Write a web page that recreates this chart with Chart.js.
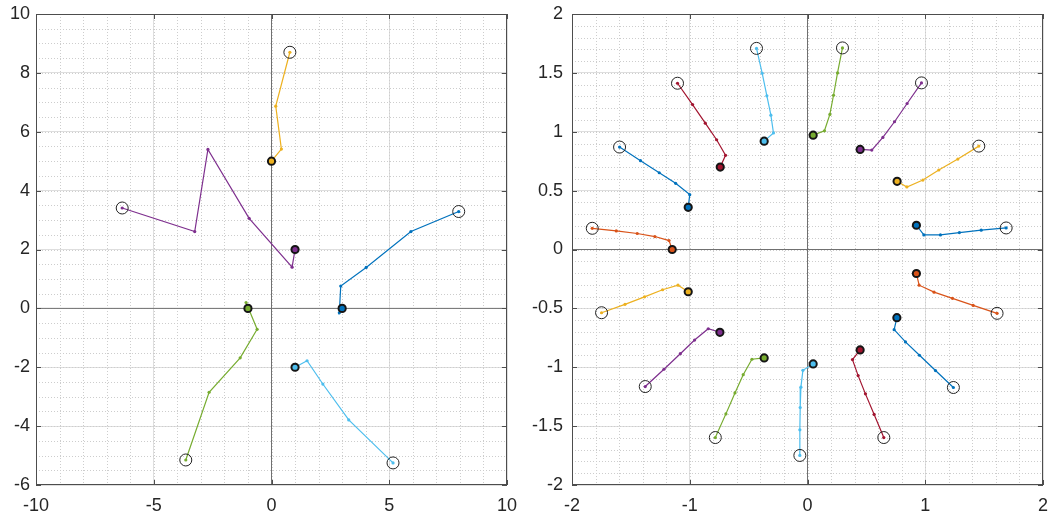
<!DOCTYPE html>
<html>
<head>
<meta charset="utf-8">
<script src="https://cdn.jsdelivr.net/npm/chart.js@4"></script>
<style>
  html, body { margin: 0; padding: 0; background: #fff; }
  #wrap { position: relative; width: 1052px; height: 516px; }
  canvas { position: absolute; top: 0; }
</style>
</head>
<body>
<div id="wrap">
  <canvas id="left" width="520" height="516" style="left:0"></canvas>
  <canvas id="right" width="532" height="516" style="left:520px"></canvas>
</div>
<script>
// MATLAB default line colours
const blue = '#0072BD', orange = '#D95319', yellow = '#EDB120', purple = '#7E2F8E',
      green = '#77AC30', cyan = '#4DBEEE', red = '#A2142F';

// ---- left panel: first point = start (bold ring), last point = end (open ring)
const leftBlue   = [[3, 0], [2.88, -0.15], [2.94, 0.76], [4.02, 1.39], [5.92, 2.61], [7.95, 3.29]];
const leftYellow = [[0, 5], [0.42, 5.41], [0.18, 6.87], [0.78, 8.7]];
const leftPurple = [[1, 2], [0.875, 1.4], [-0.95, 3.06], [-2.7, 5.4], [-3.26, 2.61], [-6.34, 3.41]];
const leftGreen  = [[-1, 0], [-1.08, 0.2], [-0.61, -0.71], [-1.33, -1.68], [-2.65, -2.85], [-3.64, -5.15]];
const leftCyan   = [[1, -2], [1.51, -1.78], [2.18, -2.57], [3.28, -3.79], [5.16, -5.25]];

const leftXRange = [-10, 10];
const leftYRange = [-6, 10];
const leftXTicks = [-10, -5, 0, 5, 10];
const leftYTicks = [-6, -4, -2, 0, 2, 4, 6, 8, 10];

// ---- right panel
const rightBlue1   = [[0.925, 0.206], [0.988, 0.124], [1.129, 0.124], [1.29, 0.144], [1.475, 0.164], [1.687, 0.183]];
const rightYellow1 = [[0.761, 0.579], [0.844, 0.531], [0.98, 0.59], [1.115, 0.675], [1.277, 0.768], [1.455, 0.878]];
const rightPurple1 = [[0.447, 0.85], [0.546, 0.844], [0.64, 0.952], [0.739, 1.085], [0.846, 1.24], [0.968, 1.415]];
const rightGreen1  = [[0.048, 0.971], [0.144, 1.008], [0.19, 1.147], [0.221, 1.31], [0.255, 1.5], [0.297, 1.712]];
const rightCyan1   = [[-0.368, 0.92], [-0.289, 0.99], [-0.311, 1.141], [-0.345, 1.305], [-0.385, 1.497], [-0.433, 1.708]];
const rightRed1    = [[-0.741, 0.7], [-0.696, 0.8], [-0.772, 0.932], [-0.868, 1.073], [-0.976, 1.231], [-1.104, 1.412]];
const rightBlue2   = [[-1.013, 0.358], [-1.0, 0.466], [-1.12, 0.562], [-1.259, 0.652], [-1.418, 0.754], [-1.596, 0.87]];
const rightOrange1 = [[-1.149, 0], [-1.176, 0.076], [-1.296, 0.11], [-1.446, 0.136], [-1.624, 0.158], [-1.828, 0.18]];
const rightYellow2 = [[-1.013, -0.359], [-1.1, -0.303], [-1.231, -0.342], [-1.384, -0.402], [-1.55, -0.466], [-1.749, -0.537]];
const rightPurple2 = [[-0.744, -0.703], [-0.843, -0.673], [-0.959, -0.769], [-1.08, -0.885], [-1.219, -1.017], [-1.378, -1.164]];
const rightGreen2  = [[-0.368, -0.921], [-0.472, -0.932], [-0.546, -1.063], [-0.616, -1.218], [-0.693, -1.396], [-0.783, -1.597]];
const rightCyan2   = [[0.048, -0.972], [-0.039, -1.026], [-0.056, -1.169], [-0.062, -1.342], [-0.065, -1.531], [-0.065, -1.749]];
const rightRed2    = [[0.447, -0.853], [0.382, -0.935], [0.43, -1.071], [0.492, -1.226], [0.566, -1.401], [0.648, -1.597]];
const rightBlue3   = [[0.759, -0.579], [0.736, -0.681], [0.832, -0.785], [0.951, -0.898], [1.087, -1.028], [1.239, -1.172]];
const rightOrange2 = [[0.925, -0.204], [0.948, -0.303], [1.075, -0.362], [1.231, -0.415], [1.407, -0.475], [1.61, -0.542]];

const rightXRange = [-2, 2];
const rightYRange = [-2, 2];
const rightXTicks = [-2, -1, 0, 1, 2];
const rightYTicks = [-2, -1.5, -1, -0.5, 0, 0.5, 1, 1.5, 2];

const leftTracks = [
    [leftBlue, blue], [leftYellow, yellow], [leftPurple, purple], [leftGreen, green], [leftCyan, cyan],
];
const rightTracks = [
    [rightBlue1, blue], [rightYellow1, yellow], [rightPurple1, purple], [rightGreen1, green],
    [rightCyan1, cyan], [rightRed1, red], [rightBlue2, blue], [rightOrange1, orange],
    [rightYellow2, yellow], [rightPurple2, purple], [rightGreen2, green], [rightCyan2, cyan],
    [rightRed2, red], [rightBlue3, blue], [rightOrange2, orange],
];

const FONT = {family: '"Liberation Sans", Arial, Helvetica, sans-serif', size: 18};
const TEXT = '#262626';

function buildSets(tracks, xr, yr) {
    const sets = [
        // the x=0 / y=0 reference lines
        {data: [{x: xr[0], y: 0}, {x: xr[1], y: 0}], showLine: true, borderColor: '#707070',
         borderWidth: 1, pointRadius: 0, order: 10},
        {data: [{x: 0, y: yr[0]}, {x: 0, y: yr[1]}], showLine: true, borderColor: '#707070',
         borderWidth: 1, pointRadius: 0, order: 10},
    ];
    tracks.forEach(([pts, color]) => {
        const data = pts.map(([x, y]) => ({x, y}));
        sets.push({data, showLine: true, borderColor: color, borderWidth: 1.2,
                   pointRadius: 1.6, pointBorderWidth: 0, pointBackgroundColor: color, order: 3});
        sets.push({data: [data[0]], pointRadius: 3.6, pointBorderWidth: 2, pointBorderColor: '#151515',
                   pointBackgroundColor: color, order: 1});
        sets.push({data: [data[data.length - 1]], pointRadius: 6, pointBorderWidth: 1, pointBorderColor: '#222',
                   pointBackgroundColor: 'rgba(0,0,0,0)', order: 2});
    });
    return sets;
}

// minor dotted grid, inward tick marks and the box
const matlabAxes = {
    id: 'matlabAxes',
    beforeDatasetsDraw(chart, args, opts) {
        const {ctx, chartArea: a, scales: {x, y}} = chart;
        ctx.save();
        ctx.strokeStyle = '#cdcdcd';
        ctx.lineWidth = 1;
        ctx.setLineDash([1, 2]);
        ctx.beginPath();
        let n = Math.round((x.max - x.min) / opts.minorX);
        for (let i = 1; i < n; i++) {
            const px = Math.round(x.getPixelForValue(x.min + i * opts.minorX)) + 0.5;
            ctx.moveTo(px, a.top); ctx.lineTo(px, a.bottom);
        }
        n = Math.round((y.max - y.min) / opts.minorY);
        for (let i = 1; i < n; i++) {
            const py = Math.round(y.getPixelForValue(y.min + i * opts.minorY)) + 0.5;
            ctx.moveTo(a.left, py); ctx.lineTo(a.right, py);
        }
        ctx.stroke();
        ctx.restore();
    },
    afterDatasetsDraw(chart) {
        const {ctx, chartArea: a, scales: {x, y}} = chart;
        ctx.save();
        ctx.strokeStyle = '#4d4d4d';
        ctx.lineWidth = 1;
        ctx.beginPath();
        x.ticks.forEach(t => {
            const px = Math.round(x.getPixelForValue(t.value)) + 0.5;
            ctx.moveTo(px, a.bottom); ctx.lineTo(px, a.bottom - 5);
            ctx.moveTo(px, a.top); ctx.lineTo(px, a.top + 5);
        });
        y.ticks.forEach(t => {
            const py = Math.round(y.getPixelForValue(t.value)) + 0.5;
            ctx.moveTo(a.left, py); ctx.lineTo(a.left + 5, py);
            ctx.moveTo(a.right, py); ctx.lineTo(a.right - 5, py);
        });
        ctx.stroke();
        ctx.strokeRect(Math.round(a.left) + 0.5, Math.round(a.top) + 0.5,
                       Math.round(a.width) - 1, Math.round(a.height) - 1);
        ctx.restore();
    }
};

function axis(range, ticks, pad, fit, isX) {
    return {
        type: 'linear', min: range[0], max: range[1],
        afterBuildTicks: s => { s.ticks = ticks.map(v => ({value: v})); },
        afterFit: s => {
            if (isX) s.height = fit; else s.width = fit;
            s.paddingLeft = s.paddingRight = s.paddingTop = s.paddingBottom = 0;
        },
        grid: {color: '#dedede', lineWidth: 1, drawTicks: false},
        border: {display: false},
        ticks: {font: FONT, color: TEXT, padding: pad, autoSkip: false, maxRotation: 0,
                callback: v => String(v)},
    };
}

function makeChart(id, tracks, xr, yr, xt, yt, yPad, yWidth, rightPad, minorX, minorY) {
    return new Chart(document.getElementById(id), {
        type: 'scatter',
        data: {datasets: buildSets(tracks, xr, yr)},
        options: {
            responsive: false,
            animation: false,
            events: [],
            layout: {padding: {top: 14, right: rightPad, left: 0, bottom: 0}},
            plugins: {legend: {display: false}, tooltip: {enabled: false},
                      matlabAxes: {minorX, minorY}},
            scales: {
                x: axis(xr, xt, 10, 31, true),
                y: axis(yr, yt, yPad, yWidth, false),
            },
        },
        plugins: [matlabAxes],
    });
}

makeChart('left', leftTracks, leftXRange, leftYRange, leftXTicks, leftYTicks, 6, 36, 13, 1, 0.5);
makeChart('right', rightTracks, rightXRange, rightYRange, rightXTicks, rightYTicks, 9, 52, 9, 0.2, 0.1);
</script>
</body>
</html>
